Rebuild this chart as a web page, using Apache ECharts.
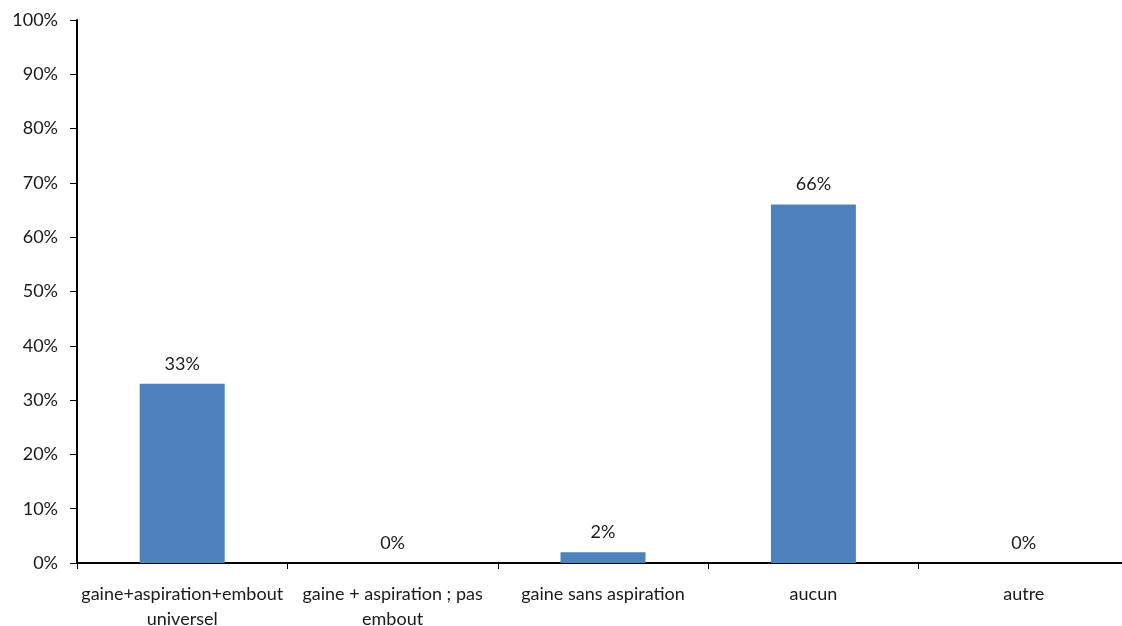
<!DOCTYPE html>
<html>
<head>
<meta charset="utf-8">
<script src="https://cdn.jsdelivr.net/npm/echarts@6/dist/echarts.min.js"></script>
<style>html,body{margin:0;padding:0;background:#fff}#c{width:1122px;height:626px}</style>
</head>
<body>
<div id="c"></div>
<script>
const categories = ["gaine+aspiration+embout\nuniversel", "gaine + aspiration ; pas\nembout", "gaine sans aspiration", "aucun", "autre"];
const values = [33, 0, 2, 66, 0];
const yTicks = [0, 10, 20, 30, 40, 50, 60, 70, 80, 90, 100];

const chart = echarts.init(document.getElementById('c'));
const font = 'Lato, "Open Sans", sans-serif';
chart.setOption({
  animation: false,
  grid: { left: 77, top: 20, width: 1052, height: 543, containLabel: false, outerBoundsMode: 'none' },
  xAxis: {
    type: 'category',
    data: categories,
    axisLine: { lineStyle: { color: '#000', width: 2 } },
    axisTick: { show: true, length: 6, lineStyle: { color: '#000', width: 1 } },
    axisLabel: { color: '#1a1a1a', fontSize: 18, fontFamily: font, margin: 19, lineHeight: 25, interval: 0 }
  },
  yAxis: {
    type: 'value',
    min: yTicks[0],
    max: yTicks[yTicks.length - 1],
    interval: 10,
    axisLine: { show: true, lineStyle: { color: '#000', width: 2 } },
    axisTick: { show: true, length: 7, lineStyle: { color: '#000', width: 1 } },
    splitLine: { show: false },
    axisLabel: { color: '#1a1a1a', fontSize: 18, fontFamily: font, margin: 19, formatter: v => v + '%' }
  },
  series: [{
    type: 'bar',
    data: values,
    barWidth: 85,
    itemStyle: { color: '#4F81BD' },
    label: { show: true, position: 'top', distance: 11, color: '#1a1a1a', fontSize: 18, fontFamily: font, formatter: p => p.value + '%' }
  }]
});
</script>
</body>
</html>
